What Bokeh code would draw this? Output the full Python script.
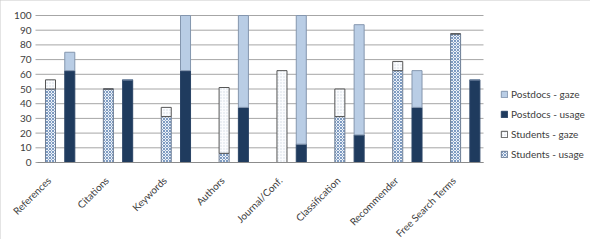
import math
from bokeh.plotting import figure
from bokeh.models import (ColumnDataSource, Legend, LegendItem, Range1d, Label)
from bokeh.core.properties import value
from bokeh.embed import file_html
from bokeh.resources import INLINE

categories = ["References", "Citations", "Keywords", "Authors", "Journal/Conf.",
              "Classification", "Recommender", "Free Search Terms"]
# stacked segment values (percent)
students_usage = [50, 50, 31.25, 6.25, 0, 31.25, 62.5, 87.5]
students_gaze = [6.25, 0, 6.25, 44.75, 62.5, 18.75, 6.25, 0]
postdocs_usage = [62.5, 56.25, 62.5, 37.5, 12.5, 18.75, 37.5, 56.25]
postdocs_gaze = [12.5, 0, 37.5, 62.5, 87.5, 75, 25, 0]
y_ticks = list(range(0, 101, 10))
y_tick_labels = [str(t) for t in y_ticks]

n = len(categories)
x_students = [3 * i for i in range(n)]
x_postdocs = [3 * i + 1 for i in range(n)]

src = ColumnDataSource(dict(
    xs=x_students, xp=x_postdocs,
    s_usage=students_usage, s_gaze=students_gaze,
    p_usage=postdocs_usage, p_gaze=postdocs_gaze,
))

FONT = "Lato"
TXT = "#404040"
GRID = "#a6a6a6"

# layout (pixels)
W, H = 590, 239
LEFT, TOP, ZERO_PX = 37, 15, 162
SLOT0_PX, SLOT_PX = 50.0, 19.29
PLOT_RIGHT_PX = 483


def px_to_x(px):
    return (px - SLOT0_PX) / SLOT_PX


px_per_unit = (ZERO_PX - TOP) / 100.0
y_top = 100 + TOP / px_per_unit
y_bottom = 100 - (H - TOP) / px_per_unit
x_plot_start = px_to_x(LEFT)
x_grid_end = px_to_x(PLOT_RIGHT_PX)

p = figure(width=W, height=H, output_backend="svg", toolbar_location=None,
           x_range=Range1d(px_to_x(0), px_to_x(W)),
           y_range=Range1d(y_bottom, y_top),
           min_border_left=0, min_border_top=0, min_border_right=0,
           min_border_bottom=0)
p.outline_line_color = None
p.border_fill_color = "white"
p.background_fill_color = "white"
p.styles = {"outline": "1px solid #c8c8c8", "outline-offset": "-1px"}
p.xaxis.visible = False
p.yaxis.visible = False
p.xgrid.grid_line_color = None
p.ygrid.grid_line_color = None

# value axis: grid lines (with short outer ticks) and tick labels
p.segment(x0=[px_to_x(LEFT - 2)] * len(y_ticks), x1=[x_grid_end] * len(y_ticks),
          y0=y_ticks, y1=y_ticks, line_color=GRID, line_width=1)
p.text(x=[px_to_x(LEFT - 6)] * len(y_ticks), y=y_ticks, text=y_tick_labels,
       text_align="right", text_baseline="middle", text_font=value(FONT),
       text_font_size="10px", text_color=TXT)

bw = 0.52
s_r = p.vbar_stack(["s_usage", "s_gaze"], x="xs", width=bw, source=src,
                   fill_color=["#eef2f8", "#fbfcfe"],
                   line_color=["#6f7f96", "#555555"], line_width=1,
                   hatch_pattern=["x", "."], hatch_color=["#7d9bc2", "#d0d8e4"],
                   hatch_scale=[3.0, 3.0], hatch_weight=[1.0, 1.0])
p_r = p.vbar_stack(["p_usage", "p_gaze"], x="xp", width=bw, source=src,
                   fill_color=["#1f3b5e", "#b9cde5"],
                   line_color=["#2a4466", "#8496ae"], line_width=1)

# category axis line
p.segment(x0=[x_plot_start], x1=[x_grid_end], y0=[0], y1=[0],
          line_color="#8c8c8c", line_width=1)

# category labels, rotated 45 degrees
label_dy = -16 / px_per_unit
for xs, c in zip(x_students, categories):
    p.add_layout(Label(x=xs - 0.08, y=label_dy, text=c, angle=math.pi / 4,
                       text_align="right", text_baseline="middle",
                       text_font=FONT, text_font_size="10px", text_color=TXT))

legend = Legend(items=[
    LegendItem(label="Postdocs - gaze", renderers=[p_r[1]]),
    LegendItem(label="Postdocs - usage", renderers=[p_r[0]]),
    LegendItem(label="Students - gaze", renderers=[s_r[1]]),
    LegendItem(label="Students - usage", renderers=[s_r[0]]),
], location=(500, H - ZERO_PX + 1))
legend.border_line_color = None
legend.background_fill_alpha = 0
legend.label_text_font = FONT
legend.label_text_font_size = "10px"
legend.label_text_color = TXT
legend.glyph_width = 8
legend.glyph_height = 8
legend.label_standoff = 3
legend.label_height = 14
legend.spacing = 6
legend.padding = 0
legend.margin = 0
p.add_layout(legend, "center")

open("out.html", "w").write(file_html(p, INLINE))
